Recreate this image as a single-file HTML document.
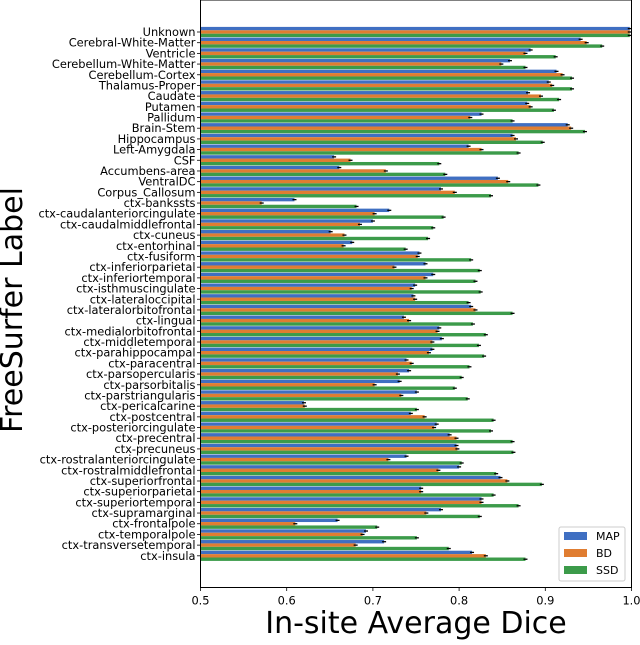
<!DOCTYPE html>
<html><head><meta charset="utf-8"><style>
body{margin:0;background:#fff}
svg text{font-family:"DejaVu Sans","Liberation Sans",sans-serif}
</style></head><body>
<svg id="chart" width="640" height="640" xmlns="http://www.w3.org/2000/svg"></svg>
<script>
const categories=["Unknown","Cerebral-White-Matter","Ventricle","Cerebellum-White-Matter","Cerebellum-Cortex","Thalamus-Proper","Caudate","Putamen","Pallidum","Brain-Stem","Hippocampus","Left-Amygdala","CSF","Accumbens-area","VentralDC","Corpus_Callosum","ctx-bankssts","ctx-caudalanteriorcingulate","ctx-caudalmiddlefrontal","ctx-cuneus","ctx-entorhinal","ctx-fusiform","ctx-inferiorparietal","ctx-inferiortemporal","ctx-isthmuscingulate","ctx-lateraloccipital","ctx-lateralorbitofrontal","ctx-lingual","ctx-medialorbitofrontal","ctx-middletemporal","ctx-parahippocampal","ctx-paracentral","ctx-parsopercularis","ctx-parsorbitalis","ctx-parstriangularis","ctx-pericalcarine","ctx-postcentral","ctx-posteriorcingulate","ctx-precentral","ctx-precuneus","ctx-rostralanteriorcingulate","ctx-rostralmiddlefrontal","ctx-superiorfrontal","ctx-superiorparietal","ctx-superiortemporal","ctx-supramarginal","ctx-frontalpole","ctx-temporalpole","ctx-transversetemporal","ctx-insula"];
const mapValues=[0.998,0.941,0.883,0.859,0.913,0.904,0.880,0.879,0.826,0.926,0.862,0.811,0.655,0.661,0.845,0.779,0.609,0.719,0.700,0.651,0.676,0.754,0.761,0.770,0.749,0.747,0.814,0.736,0.777,0.780,0.769,0.739,0.742,0.731,0.751,0.620,0.744,0.774,0.789,0.797,0.739,0.800,0.848,0.756,0.826,0.779,0.659,0.692,0.713,0.815];
const bdValues=[0.998,0.948,0.877,0.849,0.920,0.908,0.895,0.883,0.813,0.930,0.866,0.826,0.674,0.715,0.857,0.795,0.571,0.702,0.685,0.667,0.666,0.752,0.725,0.761,0.745,0.749,0.819,0.742,0.775,0.769,0.765,0.745,0.729,0.702,0.733,0.621,0.760,0.771,0.797,0.798,0.718,0.776,0.856,0.756,0.826,0.762,0.610,0.688,0.680,0.831];
const ssdValues=[0.998,0.966,0.912,0.877,0.931,0.931,0.916,0.910,0.862,0.946,0.897,0.869,0.777,0.784,0.892,0.837,0.681,0.782,0.770,0.764,0.738,0.814,0.824,0.819,0.825,0.811,0.862,0.816,0.831,0.823,0.829,0.812,0.803,0.795,0.810,0.751,0.840,0.837,0.862,0.863,0.803,0.843,0.896,0.840,0.869,0.824,0.705,0.751,0.788,0.877];
const xTicks=[0.5,0.6,0.7,0.8,0.9,1.0];
const xTickLabels=["0.5","0.6","0.7","0.8","0.9","1.0"];
const seriesNames=["MAP","BD","SSD"];

const NS="http://www.w3.org/2000/svg";
const svg=document.getElementById('chart');
const L=200.5,R=631.5,T=0,B=587.5;
const xs=v=>L+(v-0.5)/(1.0-0.5)*(R-L);
const y0=32,dy=10.69;
const ys=i=>y0+i*dy;
const colors=["#3f6fc2","#e07d31","#3c9b4a"];
const bh=3.4;
function mk(tag,attrs,parent){const e=document.createElementNS(NS,tag);for(const k in attrs)e.setAttribute(k,attrs[k]);(parent||svg).appendChild(e);return e;}

const bars=mk('g',{});


const series=[mapValues,bdValues,ssdValues];
categories.forEach((c,i)=>{
  series.forEach((vals,s)=>{
    const yc=ys(i)+(s-1)*bh;
    const r=mk('rect',{x:L,y:yc-bh/2,width:xs(vals[i])-L,height:bh,fill:colors[s]},bars);
    
    
    const eb=mk('line',{x1:xs(vals[i])-2,x2:xs(vals[i])+2,y1:yc,y2:yc,stroke:"#000","stroke-width":1.3},bars);
    
    
  });
  const tk=mk('line',{x1:L-3.5,x2:L,y1:ys(i),y2:ys(i),stroke:"#000","stroke-width":0.8});
  
  
  const t=mk('text',{x:L-5,y:ys(i)+4,"text-anchor":"end","font-size":"11.4"});
  t.textContent=c;
  
  
});
xTicks.forEach((v,i)=>{
  const tk=mk('line',{x1:xs(v),x2:xs(v),y1:B,y2:B+3.5,stroke:"#000","stroke-width":0.8});
  
  
  const t=mk('text',{x:xs(v),y:B+17,"text-anchor":"middle","font-size":"11.4"});
  t.textContent=xTickLabels[i];
  
  
});
const frame=mk('rect',{x:L,y:T,width:R-L,height:B-T,fill:"none",stroke:"#000","stroke-width":1});



const xl=mk('text',{x:416,y:633,"text-anchor":"middle","font-size":"30"});
xl.textContent="In-site Average Dice";


const yl=mk('text',{x:0,y:0,"text-anchor":"middle","font-size":"30",transform:"translate(22,310) rotate(-90)"});
yl.textContent="FreeSurfer Label";



const lg=mk('g',{});


mk('rect',{x:559,y:527,width:66,height:54,rx:2,fill:"#fff",stroke:"#ccc","stroke-width":1},lg);
seriesNames.forEach((n,s)=>{
  const yc=536+s*17;
  const p=mk('rect',{x:564,y:yc-4,width:23,height:8,fill:colors[s]},lg);
  
  
  const t=mk('text',{x:596,y:yc+4,"font-size":"11"},lg);
  t.textContent=n;
  
  
});
</script>
</body></html>
